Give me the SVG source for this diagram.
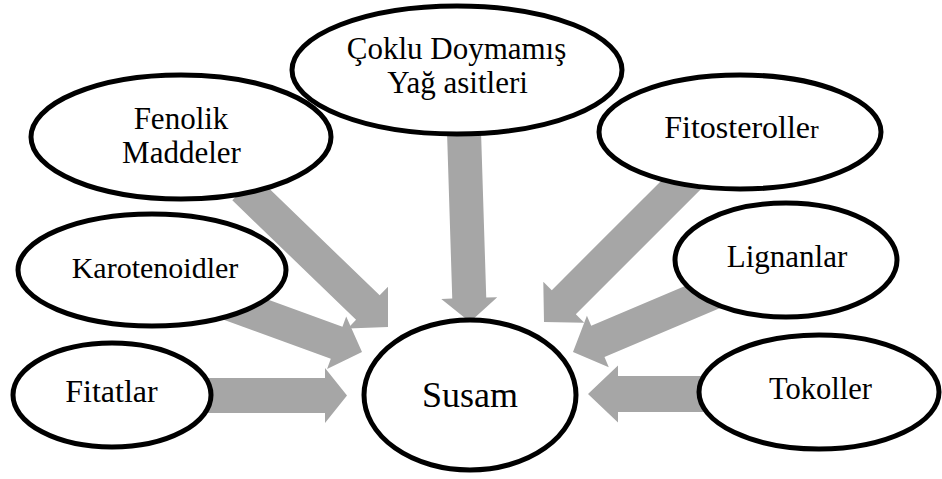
<svg xmlns="http://www.w3.org/2000/svg" width="942" height="479" viewBox="0 0 942 479">
  <style>
    .arrow { fill: #a6a6a6; stroke: none; }
    .node ellipse { fill: #ffffff; stroke: #000000; stroke-width: 5; }
    .node text { font-family: "Liberation Serif", "Times New Roman", serif; fill: #000000; text-anchor: middle; }
  </style>
  <rect width="942" height="479" fill="#ffffff"/>

  <!-- block arrows: tip at local origin, pointing along +x -->
  <g id="connectors">
    <polygon class="arrow" transform="translate(347,395.5)" points="-170,-17.5 -22,-17.5 -22,-27.5 0,0 -22,27.5 -22,17.5 -170,17.5"/>
    <polygon class="arrow" transform="translate(588,394) rotate(180)" points="-150,-18 -30,-18 -30,-28.5 0,0 -30,28.5 -30,18 -150,18"/>
    <polygon class="arrow" transform="translate(470,322) rotate(88.2)" points="-200,-17 -24,-17 -24,-28 0,0 -24,28 -24,17 -200,17"/>
    <polygon class="arrow" transform="translate(388,327) rotate(44)" points="-200,-17 -28,-17 -28,-29 0,0 -28,29 -28,17 -200,17"/>
    <polygon class="arrow" transform="translate(362,352) rotate(20)" points="-160,-17 -27,-17 -27,-28 0,0 -27,28 -27,17 -160,17"/>
    <polygon class="arrow" transform="translate(544,322) rotate(135)" points="-220,-17 -28,-17 -28,-29 0,0 -28,29 -28,17 -220,17"/>
    <polygon class="arrow" transform="translate(573,352) rotate(157)" points="-170,-17 -27,-17 -27,-28 0,0 -27,28 -27,17 -170,17"/>
  </g>

  <g id="node-fenolik" class="node">
    <ellipse cx="181" cy="137" rx="150" ry="62"/>
    <text x="181" y="129" font-size="31">Fenolik</text>
    <text x="181.5" y="163" font-size="31">Maddeler</text>
  </g>

  <g id="node-coklu" class="node">
    <ellipse cx="457" cy="70" rx="165" ry="64"/>
    <text x="456.5" y="59" font-size="31">Çoklu Doymamış</text>
    <text x="457.5" y="93" font-size="31">Yağ asitleri</text>
  </g>

  <g id="node-fitosteroller" class="node">
    <ellipse cx="740" cy="132" rx="141" ry="57"/>
    <text x="741.5" y="138" font-size="32">Fitosterolle<tspan font-size="26">r</tspan></text>
  </g>

  <g id="node-karotenoidler" class="node">
    <ellipse cx="152" cy="270" rx="134" ry="56"/>
    <text x="155" y="278" font-size="30">Karotenoidler</text>
  </g>

  <g id="node-lignanlar" class="node">
    <ellipse cx="786" cy="260" rx="111" ry="57"/>
    <text x="787" y="267" font-size="31">Lignanlar</text>
  </g>

  <g id="node-fitatlar" class="node">
    <ellipse cx="112" cy="395" rx="99" ry="52"/>
    <text x="111.5" y="402" font-size="32">Fitatlar</text>
  </g>

  <g id="node-susam" class="node">
    <ellipse cx="470" cy="395" rx="106" ry="75"/>
    <text x="470" y="407" font-size="36">Susam</text>
  </g>

  <g id="node-tokoller" class="node">
    <ellipse cx="819" cy="392" rx="120" ry="57"/>
    <text x="820.5" y="399" font-size="30.5">Tokoller</text>
  </g>
</svg>
